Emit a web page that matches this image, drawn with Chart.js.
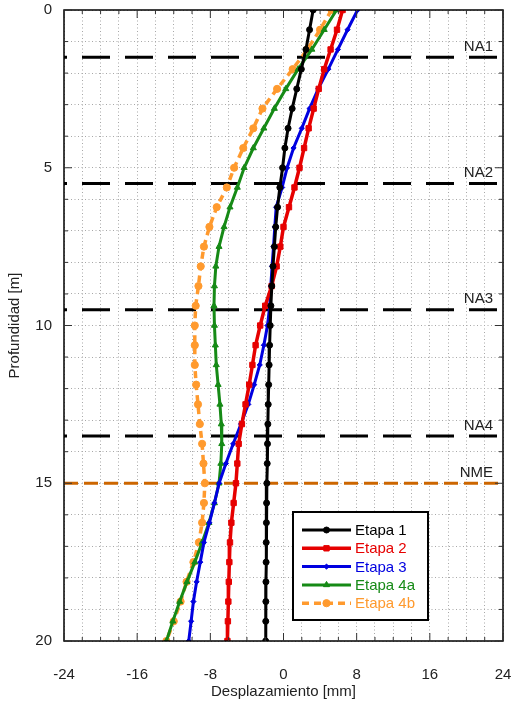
<!DOCTYPE html>
<html>
<head>
<meta charset="utf-8">
<script src="https://cdn.jsdelivr.net/npm/chart.js@4.4.1/dist/chart.umd.min.js"></script>
<style>
  html, body { margin: 0; padding: 0; background: #fff; }
</style>
</head>
<body>
<canvas id="grafico" width="512" height="711"></canvas>
<script>
// Profundidades de lectura [m]
const profundidades = [0, 0.625, 1.25, 1.875, 2.5, 3.125, 3.75, 4.375, 5, 5.625, 6.25, 6.875, 7.5, 8.125, 8.75, 9.375, 10,
    10.625, 11.25, 11.875, 12.5, 13.125, 13.75, 14.375, 15, 15.625, 16.25, 16.875, 17.5, 18.125, 18.75, 19.375, 20];

// Desplazamientos [mm] por etapa
const etapa1 = [3.24, 2.85, 2.45, 1.95, 1.45, 0.95, 0.5, 0.15, -0.1, -0.4, -0.65, -0.85, -1.0, -1.15, -1.28, -1.38, -1.45,
    -1.52, -1.57, -1.62, -1.67, -1.71, -1.75, -1.78, -1.82, -1.85, -1.87, -1.89, -1.9, -1.92, -1.93, -1.94, -1.95];
const etapa2 = [6.46, 5.85, 5.15, 4.45, 3.85, 3.3, 2.75, 2.25, 1.75, 1.2, 0.6, 0.0, -0.35, -0.75, -1.3, -2.0, -2.55,
    -3.05, -3.4, -3.75, -4.15, -4.55, -4.9, -5.05, -5.2, -5.45, -5.7, -5.85, -5.92, -5.98, -6.03, -6.08, -6.13];
const etapa3 = [8.1, 7.0, 5.95, 4.9, 3.8, 2.85, 2.0, 1.1, 0.4, -0.15, -0.8, -0.95, -1.09, -1.25, -1.39, -1.5, -1.75,
    -2.15, -2.6, -3.2, -3.85, -4.65, -5.5, -6.3, -7.04, -7.55, -8.1, -8.7, -9.1, -9.5, -9.85, -10.1, -10.36];
const etapa4a = [5.8, 4.45, 3.1, 1.6, 0.25, -1.0, -2.15, -3.3, -4.3, -5.05, -5.85, -6.5, -7.05, -7.4, -7.55, -7.6, -7.55,
    -7.45, -7.35, -7.15, -6.95, -6.8, -6.75, -6.85, -7.05, -7.55, -8.15, -8.9, -9.7, -10.55, -11.35, -12.1, -12.8];
const etapa4b = [5.25, 4.0, 2.6, 1.0, -0.7, -2.3, -3.3, -4.4, -5.4, -6.2, -7.3, -8.1, -8.7, -9.05, -9.3, -9.6, -9.7,
    -9.7, -9.7, -9.55, -9.35, -9.15, -8.9, -8.75, -8.6, -8.7, -8.9, -9.25, -9.85, -10.6, -11.25, -12.0, -12.8];

const nombresEtapas = ['Etapa 1', 'Etapa 2', 'Etapa 3', 'Etapa 4a', 'Etapa 4b'];

// Niveles de referencia
const nivelesNombre = ['NA1', 'NA2', 'NA3', 'NA4', 'NME'];
const nivelesProf = [1.5, 5.5, 9.5, 13.5, 15];

// Etiquetas de los ejes
const ticksX = [-24, -16, -8, 0, 8, 16, 24];
const ticksY = [0, 5, 10, 15, 20];

const estilos = [
    { color: '#000000', punto: 'circle', radio: 3, ancho: 3, dash: [] },
    { color: '#e60000', punto: 'rect', radio: 3.8, ancho: 3.5, dash: [] },
    { color: '#0000e0', punto: 'rectRot', radio: 2.6, ancho: 3, dash: [] },
    { color: '#168a16', punto: 'triangle', radio: 3.5, ancho: 3, dash: [] },
    { color: '#ff9a2e', punto: 'circle', radio: 3.6, ancho: 3.5, dash: [7, 5] }
];

const series = [etapa1, etapa2, etapa3, etapa4a, etapa4b];

const datasets = series.map((valores, i) => ({
    label: nombresEtapas[i],
    data: valores.map((v, j) => ({ x: v, y: profundidades[j] })),
    showLine: true,
    borderColor: estilos[i].color,
    backgroundColor: estilos[i].color,
    borderWidth: estilos[i].ancho,
    borderDash: estilos[i].dash,
    pointStyle: estilos[i].punto,
    pointRadius: estilos[i].radio,
    pointBorderWidth: 1,
    order: i
}));

nivelesNombre.forEach((nombre, i) => {
    const esNME = nombre === 'NME';
    datasets.push({
        label: nombre,
        data: [{ x: -24, y: nivelesProf[i] }, { x: 24, y: nivelesProf[i] }],
        showLine: true,
        borderColor: esNME ? '#cc6600' : '#000000',
        borderWidth: 3,
        borderDash: esNME ? [14, 6] : [28, 15],
        borderDashOffset: esNME ? 0 : 25,
        pointRadius: 0,
        order: 20
    });
});

const fuente = "'Liberation Sans', Arial, sans-serif";
Chart.defaults.font.family = fuente;
Chart.defaults.color = '#222';

// marco, marcas interiores, títulos, nombres de niveles y leyenda
const extras = {
    id: 'extras',
    afterDraw(chart) {
        const ctx = chart.ctx;
        const a = chart.chartArea;
        const sx = chart.scales.x, sy = chart.scales.y;
        ctx.save();
        ctx.strokeStyle = '#000';
        ctx.lineWidth = 1.5;
        ctx.strokeRect(a.left, a.top, a.right - a.left, a.bottom - a.top);

        ctx.lineWidth = 1;
        ctx.strokeStyle = '#333';
        sx.ticks.forEach(t => {
            const px = sx.getPixelForValue(t.value);
            const largo = ticksX.includes(t.value) ? 8 : 4;
            ctx.beginPath();
            ctx.moveTo(px, a.bottom); ctx.lineTo(px, a.bottom - largo);
            ctx.moveTo(px, a.top); ctx.lineTo(px, a.top + largo);
            ctx.stroke();
        });
        sy.ticks.forEach(t => {
            const py = sy.getPixelForValue(t.value);
            const largo = ticksY.includes(t.value) ? 8 : 4;
            ctx.beginPath();
            ctx.moveTo(a.right, py); ctx.lineTo(a.right - largo, py);
            ctx.moveTo(a.left, py); ctx.lineTo(a.left + largo, py);
            ctx.stroke();
        });

        // títulos de ejes
        ctx.font = '15px ' + fuente;
        ctx.fillStyle = '#222';
        ctx.textAlign = 'center';
        ctx.textBaseline = 'middle';
        ctx.fillText('Desplazamiento [mm]', (a.left + a.right) / 2, 692);
        ctx.save();
        ctx.translate(15, (a.top + a.bottom) / 2);
        ctx.rotate(-Math.PI / 2);
        ctx.fillText('Profundidad [m]', 0, 0);
        ctx.restore();

        // nombres de niveles
        ctx.textAlign = 'right';
        ctx.textBaseline = 'bottom';
        nivelesNombre.forEach((nombre, i) => {
            ctx.fillText(nombre, a.right - 10, sy.getPixelForValue(nivelesProf[i]) - 3);
        });

        // leyenda
        const lx = a.left + 229, ly = a.top + 502, lw = 135, lh = 108;
        ctx.fillStyle = '#fff';
        ctx.fillRect(lx, ly, lw, lh);
        ctx.lineWidth = 2;
        ctx.strokeStyle = '#000';
        ctx.strokeRect(lx, ly, lw, lh);
        ctx.textAlign = 'left';
        ctx.textBaseline = 'middle';
        nombresEtapas.forEach((nombre, i) => {
            const e = estilos[i];
            const y = ly + 18 + i * 18.3;
            ctx.strokeStyle = e.color;
            ctx.lineWidth = e.ancho;
            ctx.setLineDash(e.dash);
            ctx.beginPath();
            ctx.moveTo(lx + 9, y); ctx.lineTo(lx + 58, y);
            ctx.stroke();
            ctx.setLineDash([]);
            ctx.fillStyle = e.color;
            ctx.strokeStyle = e.color;
            ctx.lineWidth = 1;
            Chart.helpers.drawPoint(ctx, { pointStyle: e.punto, radius: e.radio, borderWidth: 1 }, lx + 33.5, y);
            ctx.fillStyle = e.color;
            ctx.fillText(nombre, lx + 62, y + 1);
        });
        ctx.restore();
    }
};

new Chart(document.getElementById('grafico'), {
    type: 'scatter',
    data: { datasets: datasets },
    options: {
        responsive: false,
        animation: false,
        layout: { padding: { top: 10, right: 9, left: 0, bottom: 0 } },
        plugins: {
            legend: { display: false },
            tooltip: { enabled: false }
        },
        scales: {
            x: {
                type: 'linear',
                min: -24, max: 24,
                afterFit: s => { s.height = 70; },
                ticks: {
                    stepSize: 2,
                    autoSkip: false,
                    maxRotation: 0,
                    padding: 0,
                    font: { size: 15 },
                    callback: v => (ticksX.includes(v) ? String(v) : '')
                },
                grid: { color: '#a8a8a8', lineWidth: 1, drawTicks: true, tickLength: 25, tickColor: 'rgba(0,0,0,0)' },
                border: { display: false, dash: [1, 2.5] }
            },
            y: {
                type: 'linear',
                reverse: true,
                min: 0, max: 20,
                afterFit: s => { s.width = 64; },
                ticks: {
                    stepSize: 1,
                    autoSkip: false,
                    padding: 0,
                    font: { size: 15 },
                    callback: v => (ticksY.includes(v) ? String(v) : '')
                },
                grid: { color: '#a8a8a8', lineWidth: 1, drawTicks: true, tickLength: 12, tickColor: 'rgba(0,0,0,0)' },
                border: { display: false, dash: [1, 2.5] }
            }
        }
    },
    plugins: [extras]
});
</script>
</body>
</html>
